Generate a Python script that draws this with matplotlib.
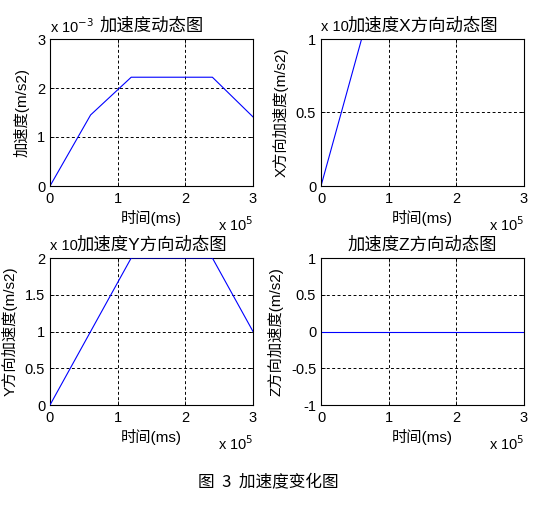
import matplotlib
matplotlib.use('Agg')
import matplotlib.pyplot as plt
from matplotlib.ticker import FuncFormatter

plt.rcParams['font.family'] = ['Liberation Sans', 'Noto Sans CJK SC', 'DejaVu Sans']
plt.rcParams['axes.unicode_minus'] = False

# time in ms, accelerations in m/s2
t = [0, 60000, 120000, 240000, 300000]
acc = [0, 1.45e-3, 2.22e-3, 2.22e-3, 1.41e-3]
acc_x = [0, 1.0e-3, 1.0e-3, 1.0e-3, 1.0e-3]
acc_y = [0, 1.0e-3, 2.0e-3, 2.0e-3, 1.0e-3]
acc_z = [0, 0, 0, 0, 0]

titles = ['加速度动态图', '加速度X方向动态图', '加速度Y方向动态图', '加速度Z方向动态图']
ylabels = ['加速度(m/s2)', 'X方向加速度(m/s2)', 'Y方向加速度(m/s2)', 'Z方向加速度(m/s2)']
series = [acc, acc_x, acc_y, acc_z]
ylims = [(0, 3e-3), (0, 1e-3), (0, 2e-3), (-1, 1)]
yticks = [[0, 1, 2, 3], [0, 0.5, 1], [0, 0.5, 1, 1.5, 2], [-1, -0.5, 0, 0.5, 1]]
yscale = [1e-3, 1e-3, 1e-3, 1]
# exponent text above the y axis; the title hides the superscript in the two middle ones
yexp = [r'x 10$^{-3}$', 'x 10', 'x 10', None]
xticks = [0, 1, 2, 3]

fig = plt.figure(figsize=(5.48, 5.11), dpi=100)
W, H = 548, 511
pos = [(50, 39), (321, 39), (50, 258), (321, 258)]
aw, ah = 203, 147

def fmt(v, p):
    return ('%g' % v)

for i in range(4):
    x0, y0 = pos[i]
    ax = fig.add_axes([x0 / W, 1 - (y0 + ah) / H, aw / W, ah / H])
    s = yscale[i]
    ax.plot([v / 1e5 for v in t], [v / s for v in series[i]], color='#0000ff', lw=0.8,
            zorder=3 if i == 2 else 2)
    ax.set_xlim(0, 3)
    lo, hi = ylims[i]
    ax.set_ylim(lo / s, hi / s)
    ax.set_xticks(xticks)
    ax.set_yticks(yticks[i])
    ax.xaxis.set_major_formatter(FuncFormatter(fmt))
    ax.yaxis.set_major_formatter(FuncFormatter(fmt))
    ax.tick_params(direction='in', top=True, right=True, length=3, width=0.6,
                   labelsize=10.5, pad=4, colors='black')
    ax.tick_params(axis='y', pad=3.5)
    ax.grid(True, color='black', linestyle=(0, (3, 2.5)), lw=0.7)
    for sp in ax.spines.values():
        sp.set_linewidth(0.8)
        sp.set_color('black')
    ax.set_title(titles[i], fontsize=12.5, pad=6)
    ax.set_xlabel('时间(ms)', fontsize=11, labelpad=3)
    ax.set_ylabel(ylabels[i], fontsize=11, labelpad=5)
    ax.text(1.0, -0.265, r'x 10$^{5}$', transform=ax.transAxes, ha='right', va='center',
            fontsize=10.5, clip_on=False)
    if yexp[i]:
        ax.text(0.0, 1.085, yexp[i], transform=ax.transAxes, ha='left', va='center',
                fontsize=10.5, clip_on=False)

fig.text(268 / W, 1 - 483 / H, '图  3  加速度变化图', ha='center', va='center', fontsize=12,
         family=['Noto Sans CJK SC'])

fig.savefig('out.png', dpi=100)
